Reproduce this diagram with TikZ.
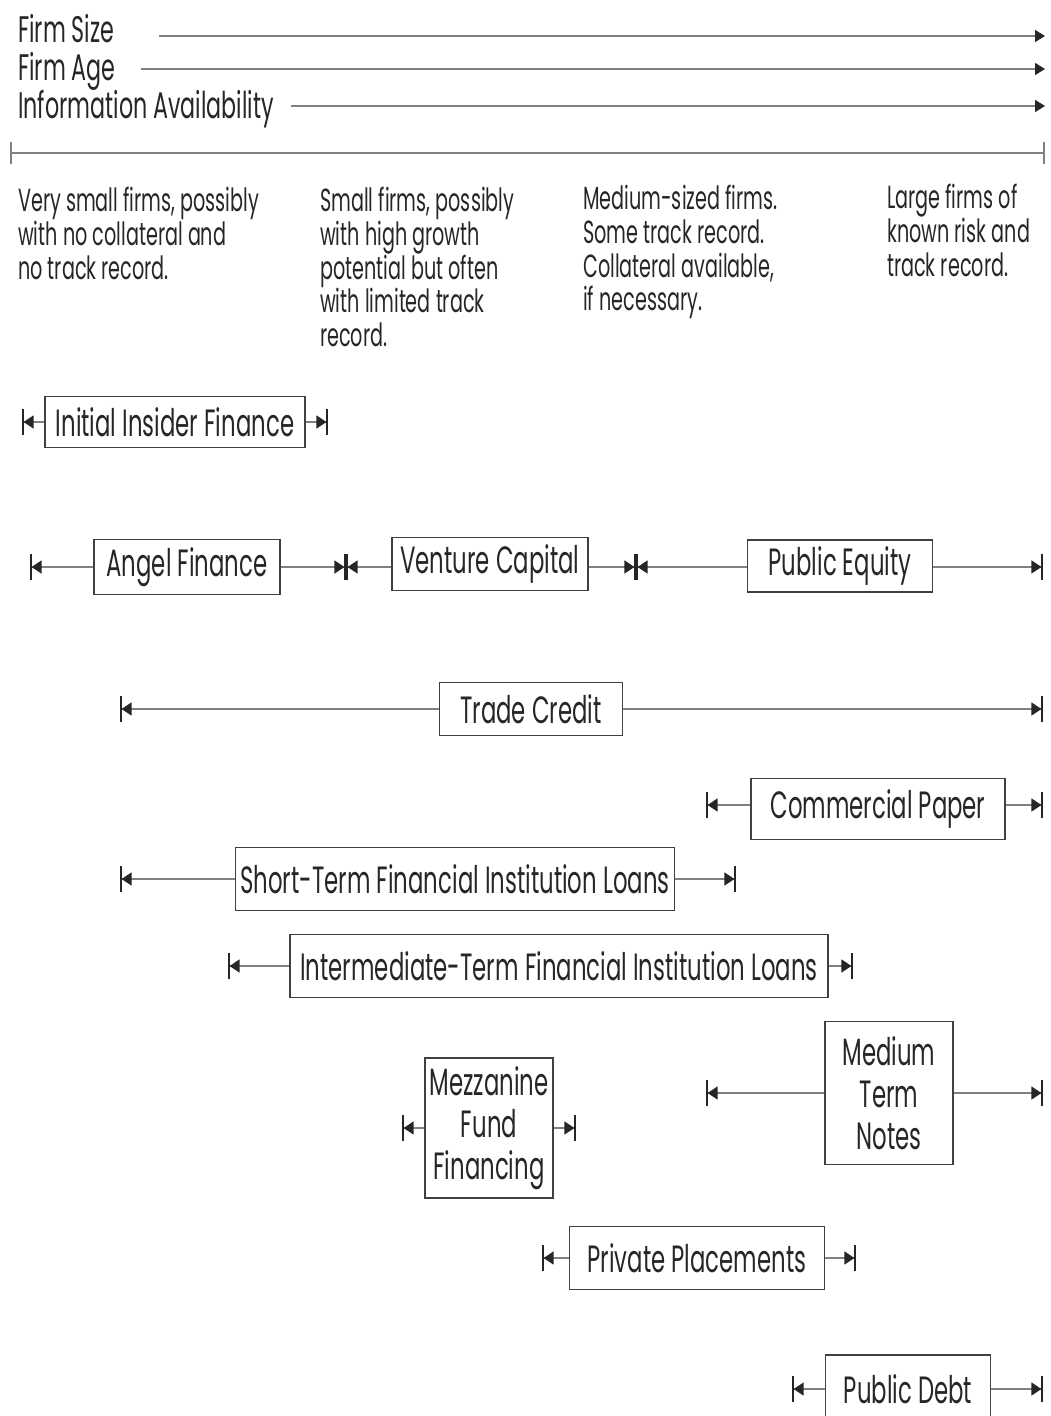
\documentclass[tikz,border=0pt]{standalone}
\usepackage{fontspec}
\setmainfont{Poppins}[FakeStretch=0.6]
\usetikzlibrary{arrows.meta}

\begin{document}
\begin{tikzpicture}[x=1pt, y=-1pt,
    finbox/.style={draw=black!75, line width=1.6pt, inner sep=0pt, align=center,
      text=black!85, font=\fontsize{38}{42}\selectfont},
    header/.style={anchor=base west, inner sep=0pt, text=black!85,
      font=\fontsize{37}{40}\selectfont},
    desc/.style={anchor=north west, inner sep=0pt, align=left, text=black!85,
      font=\fontsize{32}{33.7}\selectfont},
    rangeline/.style={draw=black!50, line width=1.4pt},
    lefttip/.style={rangeline,
      {Bar[width=26pt,line width=1.6pt,color=black!85]Triangle[length=10pt,width=13pt,color=black!85]}-},
    righttip/.style={rangeline,
      -{Triangle[length=10pt,width=13pt,color=black!85]Bar[width=26pt,line width=1.6pt,color=black!85]}},
    headline/.style={rangeline, -{Triangle[length=10pt,width=12pt,color=black!85]}},
  ]
  \useasboundingbox (0,0) rectangle (1050,1416);

  % characteristics
  \node[header] (size) at (18,42) {Firm Size};
  \node[header] (age) at (18,80) {Firm Age};
  \node[header] (info) at (18,118) {Information Availability};
  \coordinate (sizeend) at (1045,36);
  \coordinate (ageend) at (1045,69);
  \coordinate (infoend) at (1045,106);
  \draw[headline] (size.east |- sizeend) ++(45,0) -- (sizeend);
  \draw[headline] (age.east |- ageend) ++(25,0) -- (ageend);
  \draw[headline] (info.east |- infoend) ++(17,0) -- (infoend);
  \coordinate (scalestart) at (10,153);
  \coordinate (scaleend) at (1045,153);
  \draw[rangeline, {Bar[width=22pt,line width=1.6pt]}-{Bar[width=22pt,line width=1.6pt]}] (scalestart) -- (scaleend);

  % firm types
  \node[desc] (verysmall) at (18,187) {Very small firms, possibly\\with no collateral and\\no track record.};
  \node[desc] (small) at (320,187) {Small firms, possibly\\with high growth\\potential but often\\with limited track\\record.};
  \node[desc] (medium) at (583,185) {Medium-sized firms.\\Some track record.\\Collateral available,\\if necessary.};
  \node[desc] (large) at (887,184) {Large firms of\\known risk and\\track record.};

  % sources of finance
  \node[finbox, minimum width=260, minimum height=51] (insider) at (175,422) {Initial Insider Finance};
  \node[finbox, minimum width=186, minimum height=55] (angel) at (187,567) {Angel Finance};
  \node[finbox, minimum width=196, minimum height=53] (venture) at (490,564) {Venture Capital};
  \node[finbox, minimum width=185, minimum height=52] (pequity) at (840,566) {Public Equity};
  \node[finbox, minimum width=183, minimum height=53] (trade) at (531,709) {Trade Credit};
  \node[finbox, minimum width=254, minimum height=61] (cpaper) at (878,809) {Commercial Paper};
  \node[finbox, minimum width=439, minimum height=63] (stloans) at (455,879) {Short-Term Financial Institution Loans};
  \node[finbox, minimum width=538, minimum height=63] (itloans) at (559,966) {Intermediate-Term Financial Institution Loans};
  \node[finbox, minimum width=128, minimum height=140] (mezz) at (489,1128) {Mezzanine\\Fund\\Financing};
  \node[finbox, minimum width=128, minimum height=143] (mtn) at (889,1093) {Medium\\Term\\Notes};
  \node[finbox, minimum width=255, minimum height=63] (private) at (697,1258) {Private Placements};
  \node[finbox, minimum width=165, minimum height=68] (pdebt) at (908,1389) {Public Debt};

  % ranges
  \coordinate (insiderL) at (22,422);
  \coordinate (insiderR) at (328,422);
  \coordinate (angelL) at (30,567);
  \coordinate (angelR) at (346,567);
  \coordinate (ventureR) at (636,567);
  \coordinate (pequityR) at (1043,567);
  \coordinate (tradeL) at (120,709);
  \coordinate (tradeR) at (1043,709);
  \coordinate (cpaperL) at (706,805);
  \coordinate (cpaperR) at (1043,805);
  \coordinate (stloansL) at (120,879);
  \coordinate (stloansR) at (736,879);
  \coordinate (itloansL) at (228,966);
  \coordinate (itloansR) at (853,966);
  \coordinate (mezzL) at (402,1128);
  \coordinate (mezzR) at (576,1128);
  \coordinate (mtnL) at (706,1093);
  \coordinate (mtnR) at (1043,1093);
  \coordinate (privateL) at (542,1258);
  \coordinate (privateR) at (856,1258);
  \coordinate (pdebtL) at (792,1389);
  \coordinate (pdebtR) at (1043,1389);

  \draw[lefttip] (insiderL) -- (insider.west);
  \draw[righttip] (insider.east) -- (insiderR);
  \draw[lefttip] (angelL) -- (angel.west |- angelL);
  \draw[righttip] (angel.east |- angelR) -- (angelR);
  \draw[lefttip] (angelR) -- (venture.west |- angelR);
  \draw[righttip] (venture.east |- ventureR) -- (ventureR);
  \draw[lefttip] (ventureR) -- (pequity.west |- ventureR);
  \draw[righttip] (pequity.east |- pequityR) -- (pequityR);
  \draw[lefttip] (tradeL) -- (trade.west);
  \draw[righttip] (trade.east) -- (tradeR);
  \draw[lefttip] (cpaperL) -- (cpaper.west |- cpaperL);
  \draw[righttip] (cpaper.east |- cpaperR) -- (cpaperR);
  \draw[lefttip] (stloansL) -- (stloans.west);
  \draw[righttip] (stloans.east) -- (stloansR);
  \draw[lefttip] (itloansL) -- (itloans.west);
  \draw[righttip] (itloans.east) -- (itloansR);
  \draw[lefttip] (mezzL) -- (mezz.west);
  \draw[righttip] (mezz.east) -- (mezzR);
  \draw[lefttip] (mtnL) -- (mtn.west);
  \draw[righttip] (mtn.east) -- (mtnR);
  \draw[lefttip] (privateL) -- (private.west);
  \draw[righttip] (private.east) -- (privateR);
  \draw[lefttip] (pdebtL) -- (pdebt.west);
  \draw[righttip] (pdebt.east) -- (pdebtR);
\end{tikzpicture}
\end{document}
